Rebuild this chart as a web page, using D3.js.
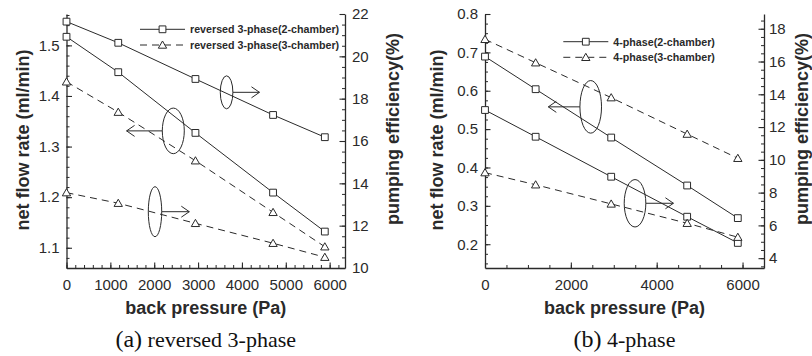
<!DOCTYPE html>
<html>
<head>
<meta charset="utf-8">
<script src="https://cdn.jsdelivr.net/npm/d3@7/dist/d3.min.js"></script>
<style>
  body { margin: 0; background: #fff; }
  svg { display: block; }
</style>
</head>
<body>
<script>
// back pressure (Pa) at which each point was measured
var pressure = [0, 1180, 2940, 4710, 5890];

// (a) reversed 3-phase
var flowRev2 = [1.517, 1.447, 1.327, 1.209, 1.132];
var flowRev3 = [1.428, 1.368, 1.272, 1.170, 1.102];
var effRev2 = [21.64, 20.64, 18.93, 17.23, 16.18];
var effRev3 = [13.56, 13.06, 12.11, 11.17, 10.51];

// (b) 4-phase
var flow4p2 = [0.689, 0.604, 0.478, 0.353, 0.268];
var flow4p3 = [0.734, 0.673, 0.582, 0.487, 0.424];
var eff4p2 = [13.04, 11.41, 8.97, 6.53, 4.93];
var eff4p3 = [9.22, 8.48, 7.31, 6.13, 5.28];

// tick labels
var xTicksA = [0, 1000, 2000, 3000, 4000, 5000, 6000];
var yLeftTicksA = [1.1, 1.2, 1.3, 1.4, 1.5];
var yRightTicksA = [10, 12, 14, 16, 18, 20, 22];
var xTicksB = [0, 2000, 4000, 6000];
var yLeftTicksB = [0.2, 0.3, 0.4, 0.5, 0.6, 0.7, 0.8];
var yRightTicksB = [4, 6, 8, 10, 12, 14, 16, 18];

var ink = '#2a2a2a';
var sans = 'Liberation Sans, Arial, Helvetica, sans-serif';
var serif = 'Liberation Serif, Times New Roman, serif';

var svg = d3.select('body').append('svg')
    .attr('width', 812)
    .attr('height', 356);

var panels = [
  {
    left: 66.5, right: 345, top: 14, bottom: 268,
    xDomain: [0, 6350], xTicks: xTicksA, xMinor: 200,
    yLDomain: [1.06, 1.562], yLTicks: yLeftTicksA, yLMinor: 0.02, yLFormat: '.1f',
    yRDomain: [10, 22], yRTicks: yRightTicksA, yRMinor: 0.5, rPad: 7,
    series: [
      {values: flowRev2, axis: 'L', marker: 'square'},
      {values: flowRev3, axis: 'L', marker: 'triangle'},
      {values: effRev2, axis: 'R', marker: 'square'},
      {values: effRev3, axis: 'R', marker: 'triangle'}
    ],
    legend: {x: 140, y: 29.3, gap: 15.7, names: ['reversed 3-phase(2-chamber)', 'reversed 3-phase(3-chamber)']},
    // ellipse markers: centre in data units, size in px, arrow tip in data x
    notes: [
      {x: 3650, y: 18.3, axis: 'R', rx: 6.3, ry: 16.5, to: 4400},
      {x: 2435, y: 1.331, axis: 'L', rx: 11, ry: 22.8, to: 1370},
      {x: 2018, y: 12.66, axis: 'R', rx: 6.7, ry: 25, to: 2800}
    ],
    yLTitleX: 22.5, yRTitleX: 393,
    caption: ['(a)', ' reversed 3-phase']
  },
  {
    left: 485, right: 764, top: 14, bottom: 268,
    xDomain: [0, 6500], xTicks: xTicksB, xMinor: 500,
    yLDomain: [0.138, 0.8], yLTicks: yLeftTicksB, yLMinor: 0.025, yLFormat: '.1f',
    yRDomain: [3.4, 18.9], yRTicks: yRightTicksB, yRMinor: 0.5, rPad: 5,
    series: [
      {values: flow4p2, axis: 'L', marker: 'square'},
      {values: flow4p3, axis: 'L', marker: 'triangle'},
      {values: eff4p2, axis: 'R', marker: 'square'},
      {values: eff4p3, axis: 'R', marker: 'triangle'}
    ],
    legend: {x: 563.3, y: 41.7, gap: 15.6, names: ['4-phase(2-chamber)', '4-phase(3-chamber)']},
    notes: [
      {x: 2463, y: 0.558, axis: 'L', rx: 10.8, ry: 26.3, to: 1475},
      {x: 3495, y: 7.35, axis: 'R', rx: 10.8, ry: 23.7, to: 4390}
    ],
    yLTitleX: 437, yRTitleX: 802,
    caption: ['(b)', ' 4-phase']
  }
];

var square = d3.symbol().type(d3.symbolSquare).size(46);
var triangle = d3.symbol().type(d3.symbolTriangle).size(30);

function drawMarker(g, kind, cx, cy) {
  g.append('path')
    .attr('d', kind === 'square' ? square() : triangle())
    .attr('transform', 'translate(' + cx + ',' + (kind === 'square' ? cy : cy + 0.8) + ')')
    .attr('fill', '#fff')
    .attr('stroke', ink)
    .attr('stroke-width', 1);
}

function styleAxis(g) {
  g.select('.domain').attr('stroke', ink).attr('stroke-width', 1.3);
  g.selectAll('.tick line').attr('stroke', ink).attr('stroke-width', 1.1);
  g.selectAll('.tick text')
    .attr('fill', ink)
    .attr('font-size', 15)
    .attr('font-family', sans);
}

panels.forEach(function(p) {
  var x = d3.scaleLinear().domain(p.xDomain).range([p.left, p.right]);
  var yL = d3.scaleLinear().domain(p.yLDomain).range([p.bottom, p.top]);
  var yR = d3.scaleLinear().domain(p.yRDomain).range([p.bottom, p.top]);
  var g = svg.append('g');

  function minor(domain, step) {
    var start = Math.ceil(domain[0] / step - 1e-6) * step;
    return d3.range(start, domain[1] + 1e-9, step);
  }

  // minor ticks
  g.append('g')
    .attr('transform', 'translate(0,' + p.bottom + ')')
    .call(d3.axisBottom(x).tickValues(minor(p.xDomain, p.xMinor)).tickSizeInner(-3).tickSizeOuter(0).tickFormat(''))
    .call(function(a) { a.select('.domain').remove(); a.selectAll('line').attr('stroke', ink); });
  g.append('g')
    .attr('transform', 'translate(' + p.left + ',0)')
    .call(d3.axisLeft(yL).tickValues(minor(p.yLDomain, p.yLMinor)).tickSizeInner(-3).tickSizeOuter(0).tickFormat(''))
    .call(function(a) { a.select('.domain').remove(); a.selectAll('line').attr('stroke', ink); });
  g.append('g')
    .attr('transform', 'translate(' + p.right + ',0)')
    .call(d3.axisRight(yR).tickValues(minor(p.yRDomain, p.yRMinor)).tickSizeInner(-3).tickSizeOuter(0).tickFormat(''))
    .call(function(a) { a.select('.domain').remove(); a.selectAll('line').attr('stroke', ink); });

  // major axes
  g.append('g')
    .attr('transform', 'translate(0,' + p.bottom + ')')
    .call(d3.axisBottom(x).tickValues(p.xTicks).tickSizeInner(-5.5).tickSizeOuter(0).tickPadding(11).tickFormat(d3.format('d')))
    .call(styleAxis);
  g.append('g')
    .attr('transform', 'translate(' + p.left + ',0)')
    .call(d3.axisLeft(yL).tickValues(p.yLTicks).tickSizeInner(-5.5).tickSizeOuter(0).tickPadding(7).tickFormat(d3.format(p.yLFormat)))
    .call(styleAxis);
  g.append('g')
    .attr('transform', 'translate(' + p.right + ',0)')
    .call(d3.axisRight(yR).tickValues(p.yRTicks).tickSizeInner(-5.5).tickSizeOuter(0).tickPadding(p.rPad).tickFormat(d3.format('d')))
    .call(styleAxis);

  // series
  p.series.forEach(function(s) {
    var y = s.axis === 'L' ? yL : yR;
    var line = d3.line()
      .x(function(d, i) { return x(pressure[i]); })
      .y(function(d) { return y(d); });
    g.append('path')
      .datum(s.values)
      .attr('d', line)
      .attr('fill', 'none')
      .attr('stroke', ink)
      .attr('stroke-width', 1)
      .attr('stroke-dasharray', s.marker === 'triangle' ? '7,5' : null);
    s.values.forEach(function(v, i) {
      drawMarker(g, s.marker, x(pressure[i]), y(v));
    });
  });

  // ellipses with arrows
  p.notes.forEach(function(n) {
    var y = n.axis === 'L' ? yL : yR;
    var cx = x(n.x), cy = y(n.y);
    g.append('ellipse')
      .attr('cx', cx).attr('cy', cy)
      .attr('rx', n.rx).attr('ry', n.ry)
      .attr('fill', 'none')
      .attr('stroke', ink)
      .attr('stroke-width', 1);
    var tip = x(n.to);
    var dir = tip > cx ? 1 : -1;
    var start = cx + dir * n.rx;
    g.append('path')
      .attr('d', 'M' + start + ',' + cy + 'H' + tip +
        'M' + (tip - dir * 8) + ',' + (cy - 5.5) + 'L' + tip + ',' + cy + 'L' + (tip - dir * 8) + ',' + (cy + 5.5))
      .attr('fill', 'none')
      .attr('stroke', ink)
      .attr('stroke-width', 1);
  });

  // legend
  var lg = g.append('g');
  ['square', 'triangle'].forEach(function(kind, i) {
    var ly = p.legend.y + i * p.legend.gap;
    lg.append('line')
      .attr('x1', p.legend.x).attr('x2', p.legend.x + 45)
      .attr('y1', ly).attr('y2', ly)
      .attr('stroke', ink)
      .attr('stroke-width', 1)
      .attr('stroke-dasharray', kind === 'triangle' ? '7,5' : null);
    drawMarker(lg, kind, p.legend.x + 22.5, ly);
    lg.append('text')
      .attr('x', p.legend.x + 50)
      .attr('y', ly + 3.8)
      .attr('font-family', sans)
      .attr('font-weight', 'bold')
      .attr('font-size', 10.7)
      .attr('fill', ink)
      .text(p.legend.names[i]);
  });

  // axis titles
  var mid = (p.left + p.right) / 2;
  g.append('text')
    .attr('x', mid).attr('y', 314)
    .attr('text-anchor', 'middle')
    .attr('font-family', sans).attr('font-weight', 'bold').attr('font-size', 18)
    .attr('fill', ink)
    .text('back pressure (Pa)');
  g.append('text')
    .attr('transform', 'translate(' + p.yLTitleX + ',140) rotate(-90)')
    .attr('text-anchor', 'middle')
    .attr('dominant-baseline', 'central')
    .attr('font-family', sans).attr('font-weight', 'bold').attr('font-size', 18)
    .attr('fill', ink)
    .text('net flow rate (ml/min)');
  g.append('text')
    .attr('transform', 'translate(' + p.yRTitleX + ',129) rotate(-90)')
    .attr('text-anchor', 'middle')
    .attr('dominant-baseline', 'central')
    .attr('font-family', sans).attr('font-weight', 'bold').attr('font-size', 18)
    .attr('fill', ink)
    .text('pumping efficiency(%)');

  // caption
  var cap = g.append('text')
    .attr('x', mid).attr('y', 346.5)
    .attr('text-anchor', 'middle')
    .attr('font-family', serif)
    .attr('fill', '#111');
  cap.append('tspan').attr('font-size', 24).text(p.caption[0]);
  cap.append('tspan').attr('font-size', 22).text(p.caption[1]);
});
</script>
</body>
</html>
